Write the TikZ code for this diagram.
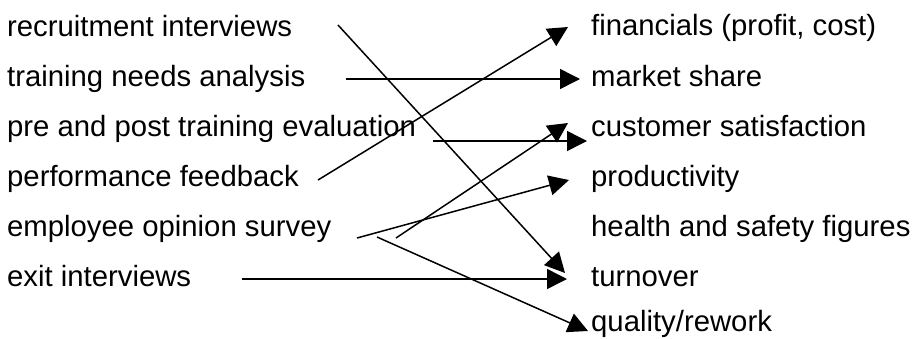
\documentclass[tikz,border=0pt]{standalone}
\usepackage{fontspec}
\setmainfont{Liberation Sans}
\usetikzlibrary{arrows.meta}
\tikzset{
  label/.style={anchor=base west,inner sep=0pt},
  link/.style={draw,line width=1.5pt,-{Triangle[length=20pt,width=20pt]}}
}
\begin{document}
\begin{tikzpicture}[x=1pt,y=-1pt,font=\fontsize{29.3}{35}\selectfont]
  % frame
  \useasboundingbox (0,0) rectangle (915,338);
  % measures
  \foreach \n/\y/\t in {1/36/recruitment interviews, 2/86/training needs analysis, 3/136/pre and post training evaluation, 4/186/performance feedback, 5/236/employee opinion survey, 6/286/exit interviews}
    \node[label] (src\n) at (7,\y) {\t};
  % outcomes
  \foreach \n/\y/\t in {1/35/{financials (profit, cost)}, 2/86/market share, 3/136/customer satisfaction, 4/186/productivity, 5/236/health and safety figures, 6/286/turnover, 7/331/{quality/rework}}
    \node[label] (tgt\n) at (591,\y) {\t};
  % link ends
  \coordinate (s1) at (338,25);  \coordinate (e1) at (565,273);
  \coordinate (s2) at (346,79);  \coordinate (e2) at (580,79);
  \coordinate (s3) at (433,141); \coordinate (e3) at (587,141);
  \coordinate (s4) at (318,180); \coordinate (e4) at (568,27);
  \coordinate (s5) at (357,238); \coordinate (e5) at (569,180);
  \coordinate (s6) at (396,238); \coordinate (e6) at (568,123);
  \coordinate (s7) at (377,237); \coordinate (e7) at (588,331);
  \coordinate (s8) at (242,279); \coordinate (e8) at (567,279);
  % links
  \foreach \n in {1,...,8}
    \draw[link] (s\n) -- (e\n);
\end{tikzpicture}
\end{document}
